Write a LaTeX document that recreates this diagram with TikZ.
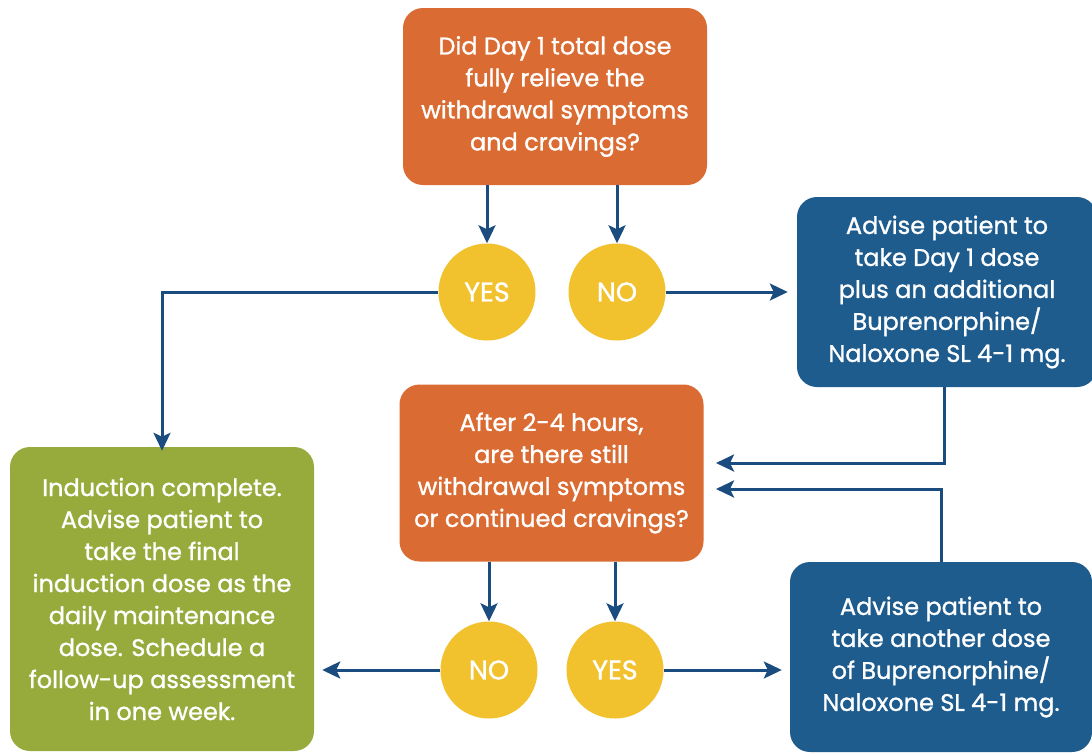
\documentclass[tikz,border=0pt]{standalone}
\usepackage{fontspec}
\setmainfont{Poppins}[UprightFeatures={FakeBold=1.1}]
\usetikzlibrary{arrows.meta}

\definecolor{qorange}{HTML}{DA6B32}
\definecolor{bblue}{HTML}{1F5C8E}
\definecolor{dgreen}{HTML}{97AB3C}
\definecolor{cyellow}{HTML}{F2C12E}
\definecolor{lineblue}{HTML}{1A4C80}

\tikzset{
  box/.style={rounded corners=20pt,text=white,align=center,inner sep=0pt,
    font=\fontsize{24}{32}\selectfont},
  question/.style={box,fill=qorange,minimum width=304pt,minimum height=177pt},
  action/.style={box,fill=bblue,minimum width=300pt,minimum height=190pt},
  answer/.style={circle,fill=cyellow,text=white,minimum size=97pt,inner sep=0pt,
    font=\fontsize{27}{30}\selectfont},
  arr/.style={draw=lineblue,line width=3pt,-{Stealth[length=18pt,width=17pt,inset=4pt]}}
}

\begin{document}
\begin{tikzpicture}[x=1pt,y=-1pt]
\useasboundingbox (0,0) rectangle (1092,753);
\node[question] (q1) at (555,96.5) {Did Day 1 total dose\\fully relieve the\\withdrawal symptoms\\and cravings?};
\node[answer] (yes1) at (487,292) {YES};
\node[answer] (no1) at (617,292) {NO};
\node[action] (b1) at (947,292) {Advise patient to\\take Day 1 dose\\plus an additional\\Buprenorphine/\\Naloxone SL 4-1 mg.};
\node[question] (q2) at (551.5,473) {After 2-4 hours,\\are there still\\withdrawal symptoms\\or continued cravings?};
\node[box,fill=dgreen,minimum width=304pt,minimum height=304pt] (done) at (162,599) {Induction complete.\\Advise patient to\\take the final\\induction dose as the\\daily maintenance\\dose. Schedule a\\follow-up assessment\\in one week.};
\node[answer] (no2) at (489,670) {NO};
\node[answer] (yes2) at (615,670) {YES};
\node[action,minimum width=302pt] (b2) at (941,657) {Advise patient to\\take another dose\\of Buprenorphine/\\Naloxone SL 4-1 mg.};
\coordinate (in1) at (716,463);
\coordinate (in2) at (716,489);
\draw[arr] (q1.south -| yes1.north) -- (yes1.north);
\draw[arr] (q1.south -| no1.north) -- (no1.north);
\draw[arr] (yes1.west) -| ([yshift=-4pt]done.north);
\draw[arr,shorten >=9pt] (no1.east) -- (no1.east -| b1.west);
\draw[arr] (b1.south -| 944,0) |- (in1);
\draw[arr] (b2.north) |- (in2);
\draw[arr] (q2.south -| no2.north) -- (no2.north);
\draw[arr] (q2.south -| yes2.north) -- (yes2.north);
\draw[arr,shorten >=8pt] (no2.west) -- (no2.west -| done.east);
\draw[arr,shorten >=8pt] (yes2.east) -- (yes2.east -| b2.west);
\end{tikzpicture}
\end{document}
